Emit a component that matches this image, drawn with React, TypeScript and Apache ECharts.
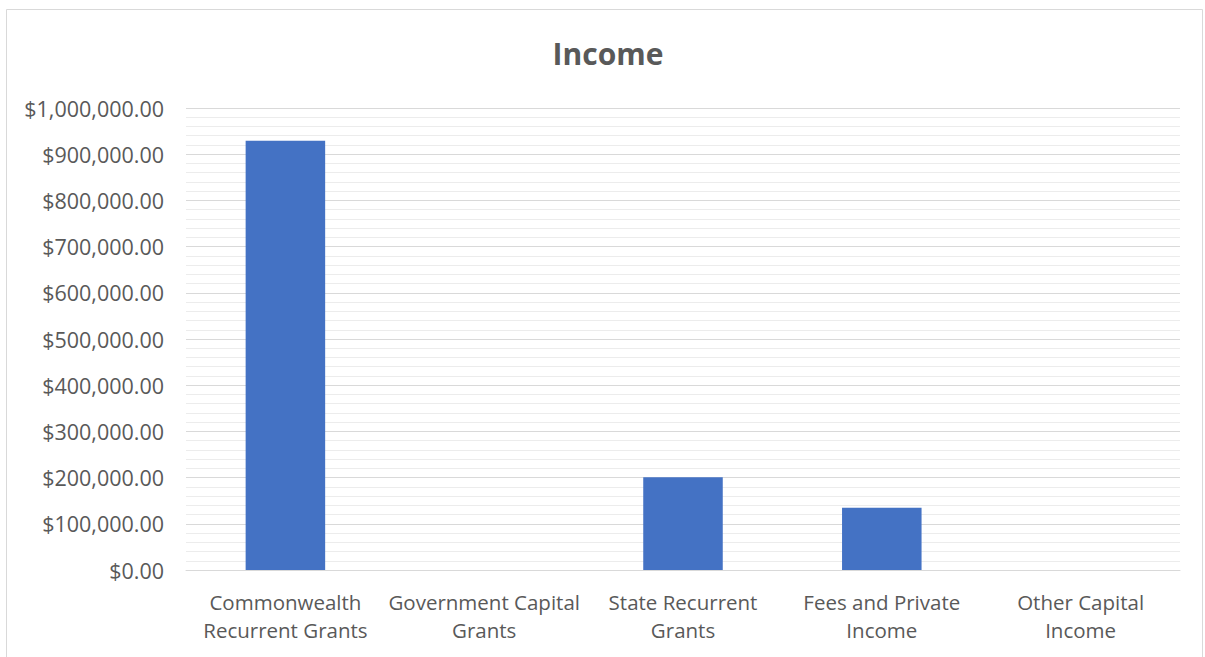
import React, { useEffect, useRef } from "react";
import * as echarts from "echarts";

const title = "Income";
const categories = [
  "Commonwealth\nRecurrent Grants",
  "Government Capital\nGrants",
  "State Recurrent\nGrants",
  "Fees and Private\nIncome",
  "Other Capital\nIncome",
];
const values = [929000, 0, 201000, 134500, 0];
const yMin = 0;
const yMax = 1000000;
const yInterval = 100000;

const FONT = "Open Sans";

export default function App() {
  const ref = useRef<HTMLDivElement>(null);
  useEffect(() => {
    const chart = echarts.init(ref.current!, null, { renderer: "svg" });
    chart.setOption({
      animation: false,
      backgroundColor: "#ffffff",
      textStyle: { fontFamily: FONT },
      title: {
        text: title,
        left: 603,
        textAlign: "center",
        top: 33,
        textStyle: { fontFamily: FONT, fontSize: 30, fontWeight: "bold", color: "#595959" },
      },
      graphic: [
        {
          type: "rect",
          shape: { x: 6.5, y: 9.5, width: 1196, height: 700 },
          style: { fill: "none", stroke: "#d9d9d9", lineWidth: 1 },
          silent: true,
        },
      ],
      grid: { left: 186, right: 25, top: 108, bottom: 87 },
      xAxis: {
        type: "category",
        data: categories,
        axisLine: { show: true, lineStyle: { color: "#d9d9d9", width: 1 } },
        axisTick: { show: false },
        axisLabel: {
          color: "#595959",
          fontFamily: FONT,
          fontSize: 20.5,
          lineHeight: 28,
          margin: 18,
          interval: 0,
        },
      },
      yAxis: {
        type: "value",
        min: yMin,
        max: yMax,
        interval: yInterval,
        axisLine: { show: false },
        axisTick: { show: false },
        axisLabel: {
          color: "#595959",
          fontFamily: FONT,
          fontSize: 21.5,
          margin: 22,
          formatter: (v: number) =>
            "$" + v.toLocaleString("en-US", { minimumFractionDigits: 2, maximumFractionDigits: 2 }),
        },
        splitLine: { show: true, lineStyle: { color: "#d9d9d9", width: 1 } },
        minorTick: { show: false, splitNumber: 5 },
        minorSplitLine: { show: true, lineStyle: { color: "#ececec", width: 1 } },
      },
      series: [
        {
          type: "bar",
          data: values,
          barCategoryGap: "60%",
          itemStyle: { color: "#4472c4" },
        },
      ],
    });
    return () => chart.dispose();
  }, []);
  return (
    <div
      ref={ref}
      style={{ position: "absolute", left: 0, top: 0, width: 1205, height: 657 }}
    />
  );
}
